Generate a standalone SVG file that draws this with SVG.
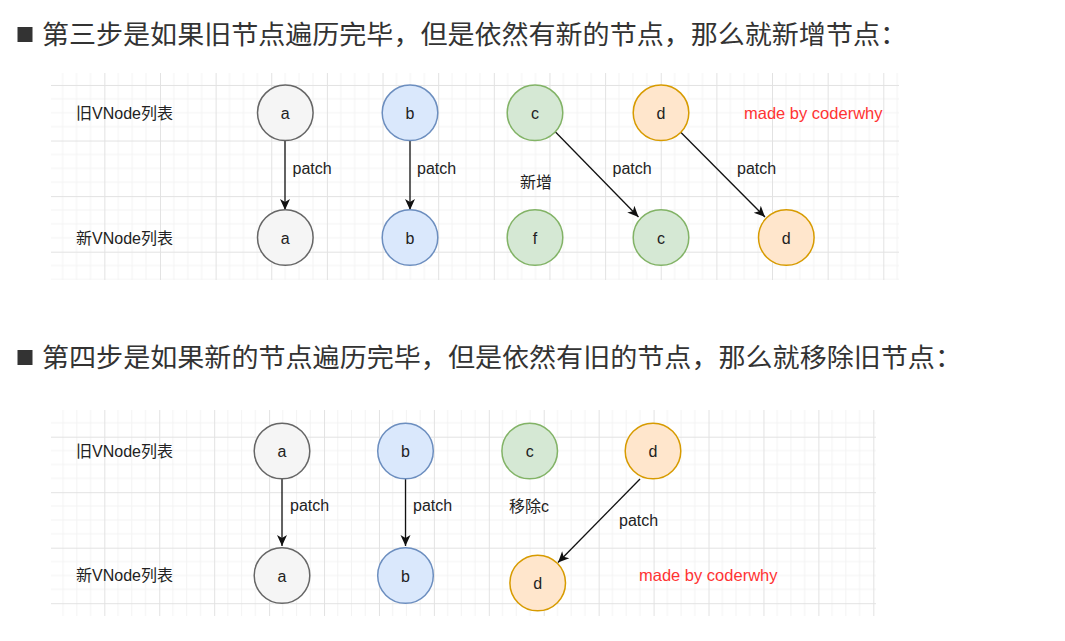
<svg xmlns="http://www.w3.org/2000/svg" width="1065" height="641" viewBox="0 0 1065 641">
  <defs>
    <!-- draw.io style canvas grid: faint minor lines, darker major lines -->
    <pattern id="grid1" patternUnits="userSpaceOnUse" x="48.7" y="29.4" width="55.64" height="55.57">
      <path d="M13.91 0V55.57M27.82 0V55.57M41.73 0V55.57M0 13.89H55.64M0 27.78H55.64M0 41.68H55.64" stroke="#f3f3f3" stroke-width="1" fill="none"/>
      <path d="M0.5 0V55.57M0 0.5H55.64" stroke="#e2e2e2" stroke-width="1" fill="none"/>
    </pattern>
    <pattern id="grid2" patternUnits="userSpaceOnUse" x="104.3" y="436.7" width="54.93" height="55.5">
      <path d="M13.73 0V55.5M27.46 0V55.5M41.2 0V55.5M0 13.87H54.93M0 27.75H54.93M0 41.62H54.93" stroke="#f3f3f3" stroke-width="1" fill="none"/>
      <path d="M0.5 0V55.5M0 0.5H54.93" stroke="#e2e2e2" stroke-width="1" fill="none"/>
    </pattern>
    <marker id="arrow" markerUnits="userSpaceOnUse" viewBox="0 0 12 12" refX="11" refY="6" markerWidth="12" markerHeight="12" orient="auto">
      <path d="M0 1 L11 6 L0 11 L3 6 Z" fill="#111"/>
    </marker>
  </defs>
  <style>
    .title { font-family: "Noto Sans CJK SC", "Liberation Sans", sans-serif; font-size: 26px; fill: #333; }
    .lbl { font-family: "Liberation Sans", "Noto Sans CJK SC", sans-serif; font-size: 16px; fill: #222; }
    .red { font-family: "Liberation Sans", "Noto Sans CJK SC", sans-serif; font-size: 16.5px; fill: #ff3333; }
    .nt { font-family: "Liberation Sans", "Noto Sans CJK SC", sans-serif; font-size: 16px; fill: #222; text-anchor: middle; dominant-baseline: central; }
    .grey { fill: #f5f5f5; stroke: #666; stroke-width: 1.5; }
    .blue { fill: #dae8fc; stroke: #6c8ebf; stroke-width: 1.5; }
    .green { fill: #d5e8d4; stroke: #82b366; stroke-width: 1.5; }
    .orange { fill: #ffe6cc; stroke: #d79b00; stroke-width: 1.5; }
    .edge { stroke: #111; stroke-width: 1.3; fill: none; marker-end: url(#arrow); }
  </style>

  <rect width="1065" height="641" fill="#fff"/>

  <!-- Step 3 heading -->
  <g id="heading3">
    <rect x="17.5" y="27" width="15" height="15" fill="#333"/>
    <text class="title" x="42" y="44" textLength="865" lengthAdjust="spacingAndGlyphs">第三步是如果旧节点遍历完毕，但是依然有新的节点，那么就新增节点：</text>
  </g>

  <!-- Step 3 diagram -->
  <g id="canvas3">
    <rect x="51" y="73" width="848" height="207" fill="url(#grid1)"/>
  </g>
  <g id="labels3">
    <text class="lbl" x="76" y="118.5">旧VNode列表</text>
    <text class="lbl" x="76" y="244">新VNode列表</text>
    <text class="lbl" x="520" y="187.5">新增</text>
    <text class="red" x="744" y="119">made by coderwhy</text>
  </g>
  <g id="edges3">
    <line class="edge" x1="285" y1="141" x2="285" y2="210"/>
    <line class="edge" x1="410" y1="141" x2="410" y2="210"/>
    <line class="edge" x1="555" y1="131.5" x2="638.5" y2="217"/>
    <line class="edge" x1="680" y1="131.5" x2="765" y2="217"/>
    <text class="lbl" x="292.5" y="174">patch</text>
    <text class="lbl" x="417" y="174">patch</text>
    <text class="lbl" x="612.5" y="174">patch</text>
    <text class="lbl" x="737" y="174">patch</text>
  </g>
  <g id="old-a1"><circle class="grey" cx="285.3" cy="112.8" r="27.8"/><text class="nt" x="285.3" y="113">a</text></g>
  <g id="old-b1"><circle class="blue" cx="410" cy="112.8" r="27.8"/><text class="nt" x="410" y="113">b</text></g>
  <g id="old-c1"><circle class="green" cx="535" cy="112.8" r="27.8"/><text class="nt" x="535" y="113">c</text></g>
  <g id="old-d1"><circle class="orange" cx="661" cy="112.8" r="27.8"/><text class="nt" x="661" y="113">d</text></g>
  <g id="new-a1"><circle class="grey" cx="285.3" cy="237.5" r="27.8"/><text class="nt" x="285.3" y="238">a</text></g>
  <g id="new-b1"><circle class="blue" cx="410" cy="237.5" r="27.8"/><text class="nt" x="410" y="238">b</text></g>
  <g id="new-f1"><circle class="green" cx="535" cy="237.5" r="27.8"/><text class="nt" x="535" y="238">f</text></g>
  <g id="new-c1"><circle class="green" cx="661" cy="237.5" r="27.8"/><text class="nt" x="661" y="238">c</text></g>
  <g id="new-d1"><circle class="orange" cx="786.3" cy="237.5" r="27.8"/><text class="nt" x="786.3" y="238">d</text></g>

  <!-- Step 4 heading -->
  <g id="heading4">
    <rect x="17.5" y="350" width="15" height="15" fill="#333"/>
    <text class="title" x="42" y="367" textLength="920" lengthAdjust="spacingAndGlyphs">第四步是如果新的节点遍历完毕，但是依然有旧的节点，那么就移除旧节点：</text>
  </g>

  <!-- Step 4 diagram -->
  <g id="canvas4">
    <rect x="51" y="410" width="825" height="206" fill="url(#grid2)"/>
  </g>
  <g id="labels4">
    <text class="lbl" x="76" y="456.5">旧VNode列表</text>
    <text class="lbl" x="76" y="580.5">新VNode列表</text>
    <text class="lbl" x="509" y="512">移除c</text>
    <text class="red" x="639" y="581">made by coderwhy</text>
  </g>
  <g id="edges4">
    <line class="edge" x1="282" y1="479" x2="282" y2="546"/>
    <line class="edge" x1="405.5" y1="479" x2="405.5" y2="546"/>
    <line class="edge" x1="640" y1="479" x2="558" y2="562.5"/>
    <text class="lbl" x="290" y="511">patch</text>
    <text class="lbl" x="413" y="511">patch</text>
    <text class="lbl" x="619" y="525.5">patch</text>
  </g>
  <g id="old-a2"><circle class="grey" cx="282" cy="451" r="27.8"/><text class="nt" x="282" y="451">a</text></g>
  <g id="old-b2"><circle class="blue" cx="405.5" cy="451" r="27.8"/><text class="nt" x="405.5" y="451">b</text></g>
  <g id="old-c2"><circle class="green" cx="529.7" cy="451" r="27.8"/><text class="nt" x="529.7" y="451">c</text></g>
  <g id="old-d2"><circle class="orange" cx="653" cy="451" r="27.8"/><text class="nt" x="653" y="451">d</text></g>
  <g id="new-a2"><circle class="grey" cx="282" cy="575.5" r="27.8"/><text class="nt" x="282" y="576">a</text></g>
  <g id="new-b2"><circle class="blue" cx="405.5" cy="575.5" r="27.8"/><text class="nt" x="405.5" y="576">b</text></g>
  <g id="new-d2"><circle class="orange" cx="537.7" cy="583" r="27.8"/><text class="nt" x="537.7" y="583.5">d</text></g>
</svg>
